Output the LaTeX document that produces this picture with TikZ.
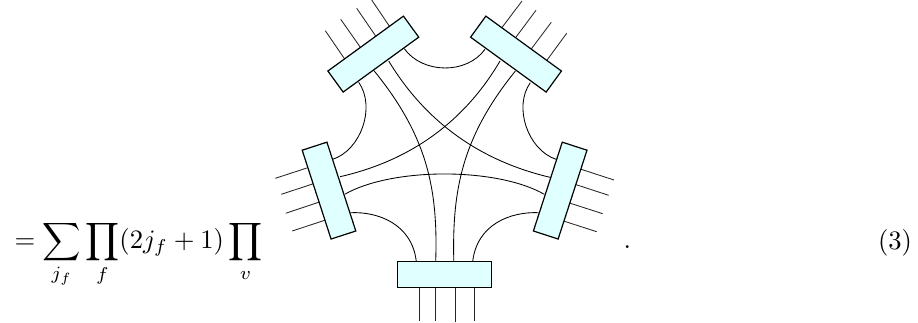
\documentclass[tikz,border=0pt]{standalone}
\usepackage{amsmath}
\definecolor{boxfill}{HTML}{E0FFFF}
\tikzset{
  wire/.style={line width=0.85pt,black},
  legwire/.style={line width=0.85pt,black!85},
  vertexbox/.style={draw=black,line width=1.2pt,fill=boxfill,minimum width=93.4pt,minimum height=26pt,inner sep=0pt},
  mathtext/.style={inner sep=0pt,scale=2.66,anchor=base west}
}
\begin{document}
\begin{tikzpicture}[x=1pt,y=-1pt]
\useasboundingbox (0,0) rectangle (918,323);
% curve ends
\coordinate (a1) at (404.3,48.7);  \coordinate (a2) at (485,49.3);
\coordinate (b1) at (358.7,82.3);  \coordinate (b2) at (332.7,159.3);
\coordinate (c1) at (530.3,82.7);  \coordinate (c2) at (556,159.3);
\coordinate (d1) at (350.7,212.7); \coordinate (d2) at (416.3,261.5);
\coordinate (e1) at (538.7,212.7); \coordinate (e2) at (472.7,261.5);
\coordinate (f1) at (374,70.7);    \coordinate (f2) at (435.7,261.5);
\coordinate (g1) at (515.4,71);    \coordinate (g2) at (453.8,261.5);
\coordinate (h1) at (388.7,61);    \coordinate (h2) at (550,177.3);
\coordinate (i1) at (500,61);      \coordinate (i2) at (340,176.7);
\coordinate (k1) at (344.7,194.3); \coordinate (k2) at (544.3,194.3);
% inner strands
\draw[wire] (a1) .. controls (422.6,74) and (466.7,74.6) .. (a2);
\draw[wire] (b1) .. controls (376,107) and (361,150) .. (b2);
\draw[wire] (c1) .. controls (513,107) and (528,150) .. (c2);
\draw[wire] (d1) .. controls (378,211.5) and (412,224) .. (d2);
\draw[wire] (e1) .. controls (511,211.5) and (477,224) .. (e2);
\draw[wire] (f1) .. controls (428,137) and (438,190) .. (f2);
\draw[wire] (g1) .. controls (462,137) and (452,190) .. (g2);
\draw[wire] (h1) .. controls (428,126) and (485,162) .. (h2);
\draw[wire] (i1) .. controls (462,126) and (405,162) .. (i2);
\draw[wire] (k1) .. controls (392,167.2) and (497,167.2) .. (k2);
% external legs, top left
\coordinate (tl1a) at (325.3,30.7); \coordinate (tl1b) at (345,59.5);
\coordinate (tl2a) at (340.7,19.3); \coordinate (tl2b) at (360.3,47.2);
\coordinate (tl3a) at (356.7,8.3);  \coordinate (tl3b) at (376,36.5);
\coordinate (tl4a) at (371.7,0);    \coordinate (tl4b) at (389.6,26.5);
\draw[legwire] (tl1a) -- (tl1b); \draw[legwire] (tl2a) -- (tl2b);
\draw[legwire] (tl3a) -- (tl3b); \draw[legwire] (tl4a) -- (tl4b);
% top right
\coordinate (tr1a) at (522,1);      \coordinate (tr1b) at (502,27.5);
\coordinate (tr2a) at (536,10.3);   \coordinate (tr2b) at (515.7,37.5);
\coordinate (tr3a) at (551.3,22.3); \coordinate (tr3b) at (531.4,48.8);
\coordinate (tr4a) at (566.7,33.3); \coordinate (tr4b) at (546.7,60.5);
\draw[legwire] (tr1a) -- (tr1b); \draw[legwire] (tr2a) -- (tr2b);
\draw[legwire] (tr3a) -- (tr3b); \draw[legwire] (tr4a) -- (tr4b);
% left
\coordinate (l1a) at (275.3,178.3); \coordinate (l1b) at (307.5,167.8);
\coordinate (l2a) at (281.3,194.3); \coordinate (l2b) at (313.2,183.8);
\coordinate (l3a) at (285.7,213.3); \coordinate (l3b) at (319.2,202.1);
\coordinate (l4a) at (292.3,231);   \coordinate (l4b) at (325.2,220.1);
\draw[legwire] (l1a) -- (l1b); \draw[legwire] (l2a) -- (l2b);
\draw[legwire] (l3a) -- (l3b); \draw[legwire] (l4a) -- (l4b);
% right
\coordinate (r1a) at (614,180);     \coordinate (r1b) at (580.8,169.2);
\coordinate (r2a) at (608.7,195.3); \coordinate (r2b) at (575.5,184.5);
\coordinate (r3a) at (602.7,213.7); \coordinate (r3b) at (569.8,203.1);
\coordinate (r4a) at (596.7,231.7); \coordinate (r4b) at (563.8,221.1);
\draw[legwire] (r1a) -- (r1b); \draw[legwire] (r2a) -- (r2b);
\draw[legwire] (r3a) -- (r3b); \draw[legwire] (r4a) -- (r4b);
% bottom
\coordinate (s1a) at (419,321);   \coordinate (s1b) at (419,287);
\coordinate (s2a) at (435.7,321); \coordinate (s2b) at (435.7,287);
\coordinate (s3a) at (455,322);   \coordinate (s3b) at (455,287);
\coordinate (s4a) at (474,321);   \coordinate (s4b) at (474,287);
\draw[legwire] (s1a) -- (s1b); \draw[legwire] (s2a) -- (s2b);
\draw[legwire] (s3a) -- (s3b); \draw[legwire] (s4a) -- (s4b);
% vertex boxes
\node[vertexbox,rotate=36] (vtl) at (373.3,54.1) {};
\node[vertexbox,rotate=-36] (vtr) at (516,54.1) {};
\node[vertexbox,rotate=-72] (vl) at (329,190.6) {};
\node[vertexbox,rotate=72] (vr) at (560.2,190.6) {};
\node[vertexbox] (vb) at (444.5,274.3) {};
% text
\node[mathtext] (eq) at (14,248.6) {$\displaystyle =\sum_{j_f}\prod_f(2j_f+1)\prod_v$};
\node[mathtext] (dot) at (623,248.6) {$.$};
\node[mathtext] (num) at (877.5,249.5) {(3)};
\end{tikzpicture}
\end{document}
